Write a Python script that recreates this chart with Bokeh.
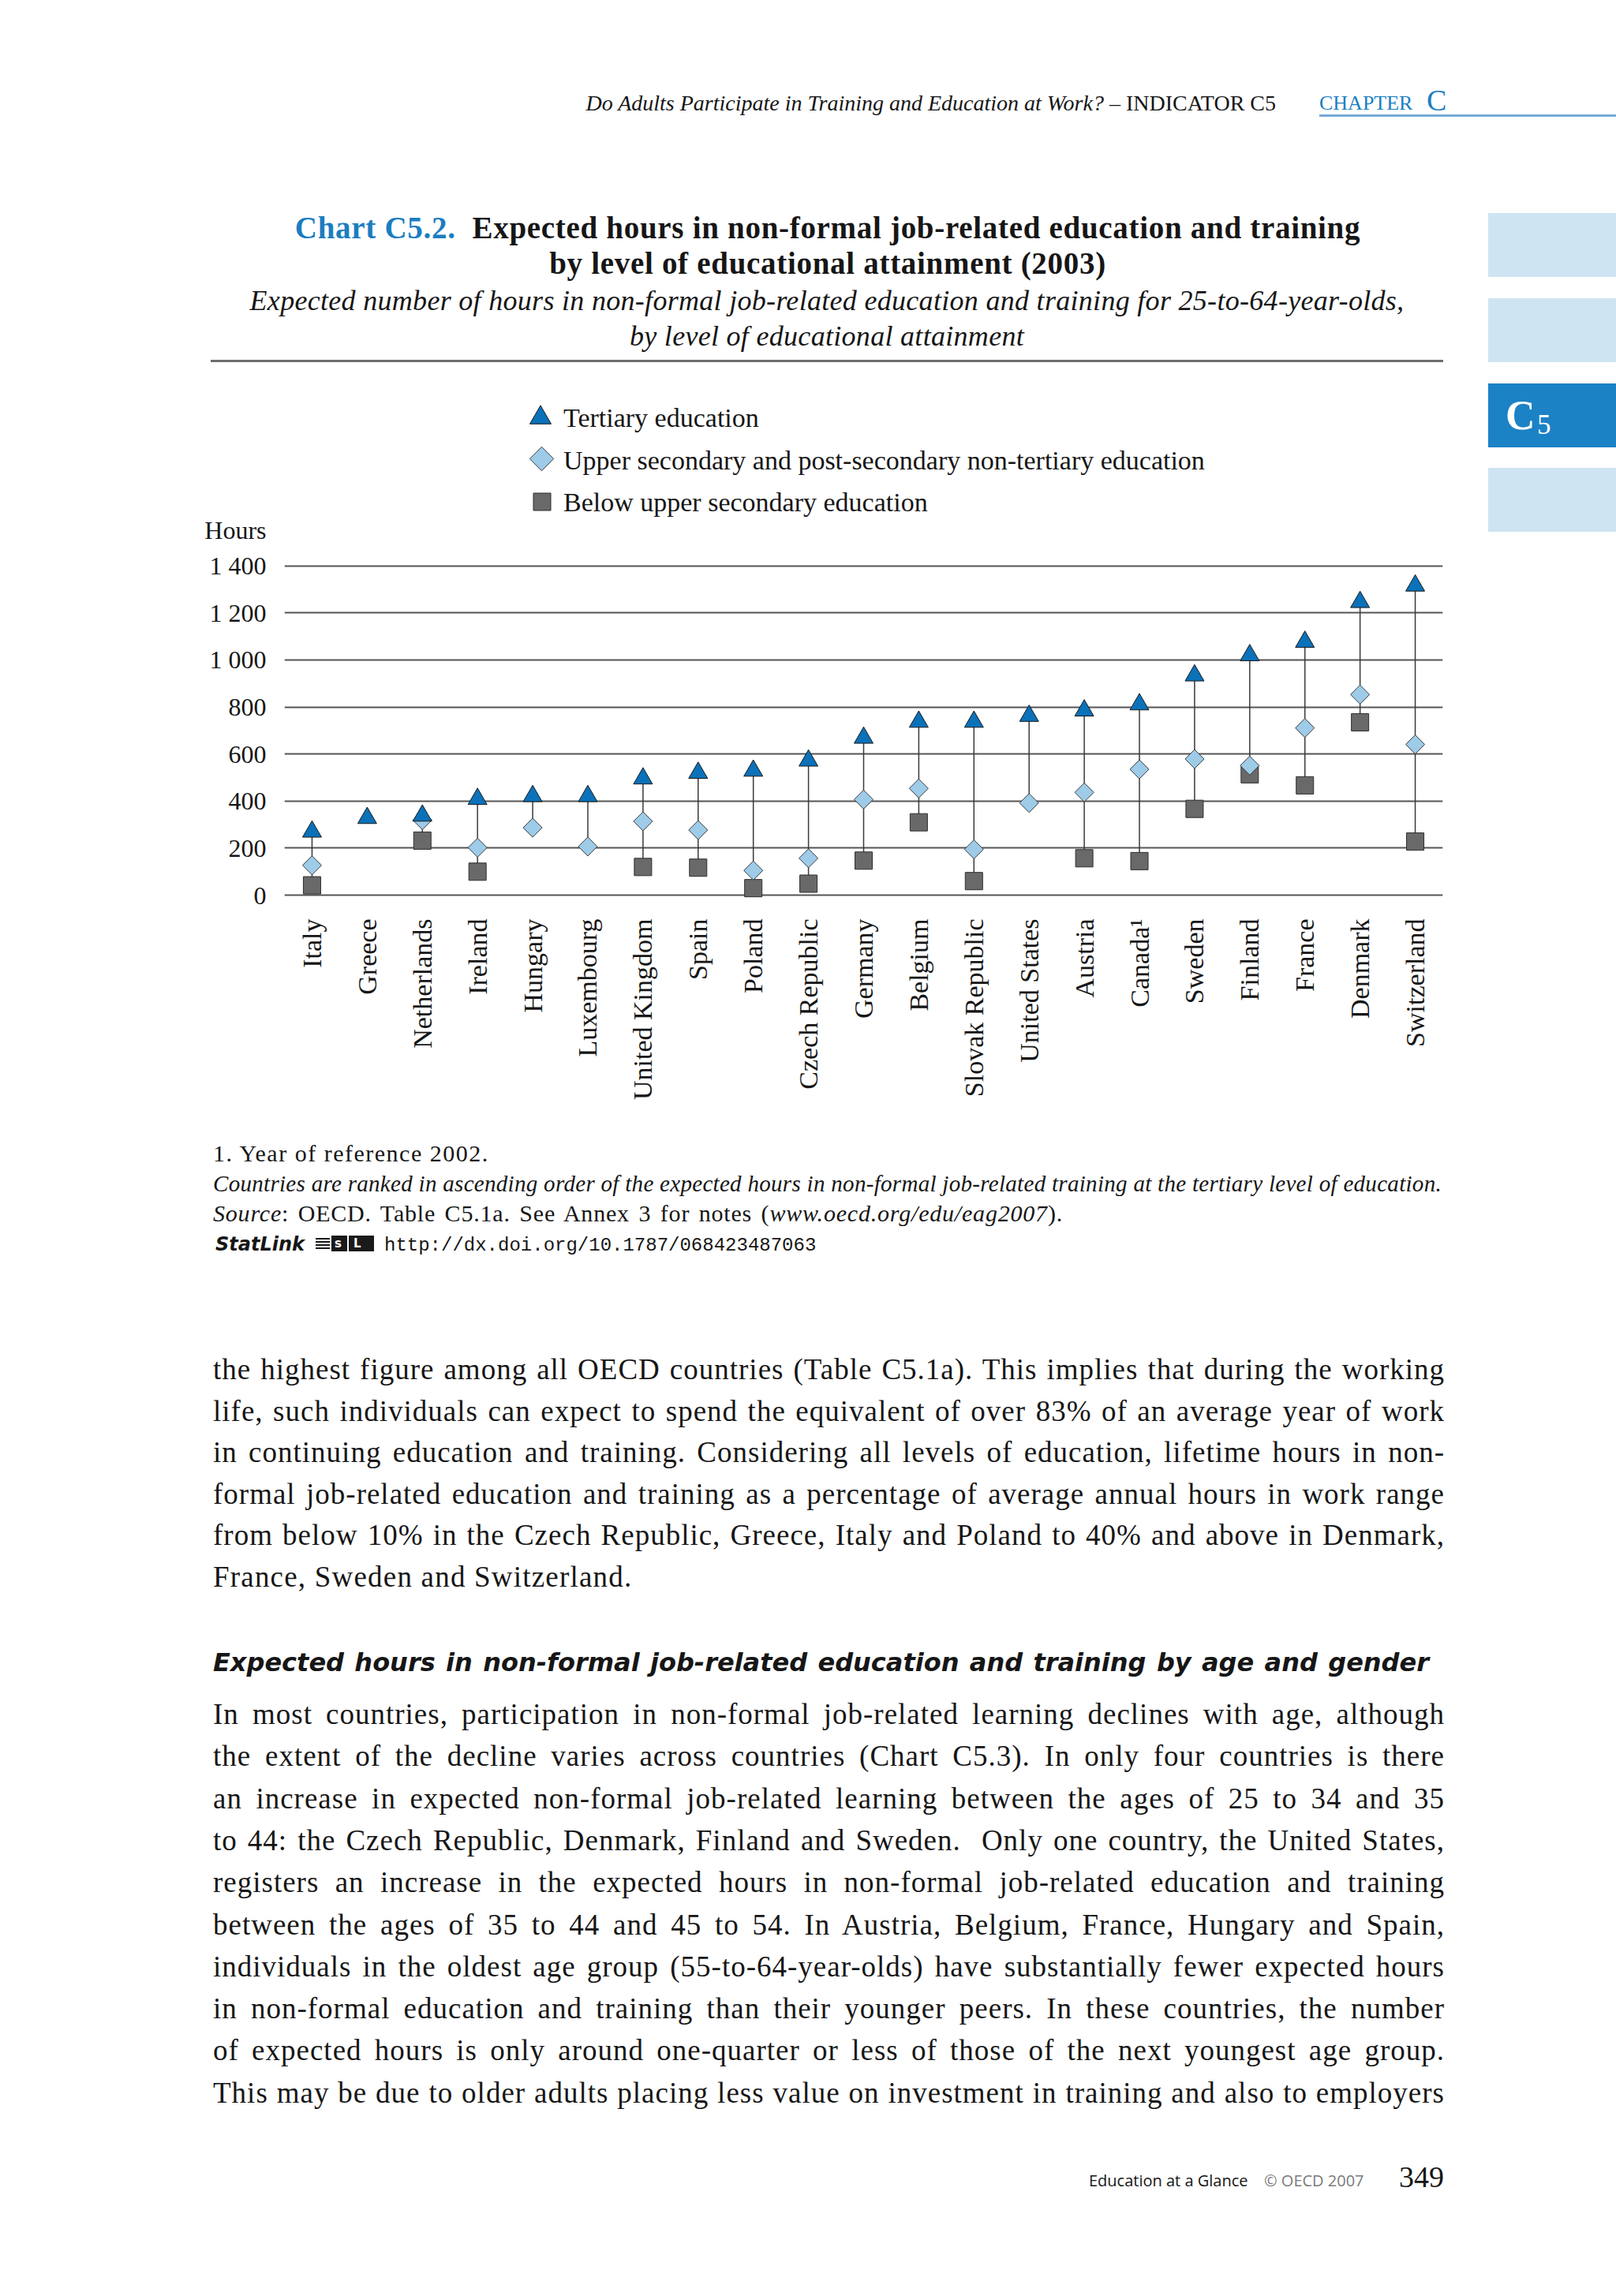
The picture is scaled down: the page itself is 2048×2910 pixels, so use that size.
import math
from bokeh.plotting import figure
from bokeh.layouts import column, row
from bokeh.models import (Range1d, FactorRange, FixedTicker, Label, ColumnDataSource, Div)
from bokeh.embed import file_html
from bokeh.resources import INLINE

# ---------------- data ----------------
countries = ["Italy", "Greece", "Netherlands", "Ireland", "Hungary", "Luxembourg",
             "United Kingdom", "Spain", "Poland", "Czech Republic", "Germany", "Belgium",
             "Slovak Republic", "United States", "Austria", "Canada\u00b9", "Sweden",
             "Finland", "France", "Denmark", "Switzerland"]
NA = float("nan")
tertiary = [270, 328, 338, 409, 421, 421, 496, 520, 529, 572, 669, 737, 737, 762,
            785, 811, 934, 1020, 1077, 1246, 1316]
upper_secondary = [127, NA, 319, 202, 287, 207, 314, 277, 105, 157, 407, 454, 195, 392,
                   437, 535, 579, 551, 711, 853, 641]
below_upper_secondary = [42, NA, 232, 100, NA, NA, 120, 117, 30, 49, 147, 310, 60, NA,
                         157, 145, 367, 514, 467, 735, 228]
y_ticks = [0, 200, 400, 600, 800, 1000, 1200, 1400]
y_tick_labels = ["0", "200", "400", "600", "800", "1 000", "1 200", "1 400"]
series_names = ["Tertiary education",
                "Upper secondary and post-secondary non-tertiary education",
                "Below upper secondary education"]
y_axis_title = "Hours"

# ---------------- styles / page geometry ----------------
TRI = "#0B71B9"
DIA = "#9DCBE8"
SQ = "#696969"
BLUE = "#1B7DC1"
TAB_LIGHT = "#CFE4F3"
TAB_DARK = "#1B82C5"
SERIF = "Liberation Serif"
INK = "#161616"

PAGE_W = 2048
TOP_H = 466                       # page y 0 .. 466
FIG_W, FIG_H = 1840, 954          # page x 0 .. 1840, page y 466 .. 1420
RIGHT_W = PAGE_W - FIG_W          # page x 1840 .. 2048
BOT_H = 1480                      # page y 1420 .. 2900
FIG_TOP = TOP_H
FIG_BOTTOM = FIG_TOP + FIG_H

FL, FR = 360, 1828                # page x of plot frame
FT, FB = 470, 1148                # page y of plot frame
CW = (FR - FL) / len(countries)
Y0_PAGE, Y1400_PAGE = 1134.1, 716.7
K = (Y0_PAGE - Y1400_PAGE) / 1400.0
y_start = -(FB - Y0_PAGE) / K
y_end = (Y0_PAGE - FT) / K


def px(page_x):
    # page pixel -> synthetic coordinate of the categorical x range
    return (page_x - FL) / CW


p = figure(width=FIG_W, height=FIG_H,
           x_range=FactorRange(factors=countries, range_padding=0),
           y_range=Range1d(y_start, y_end),
           output_backend="svg", toolbar_location=None,
           min_border_left=FL, min_border_right=FIG_W - FR,
           min_border_top=FT - FIG_TOP, min_border_bottom=FIG_BOTTOM - FB, margin=0)
p.extra_y_ranges = {"page": Range1d(FB, FT)}
p.outline_line_color = None
p.background_fill_color = "white"
p.border_fill_color = "white"

# y axis: value ticks plus the "Hours" caption placed above them
hours_tick = round((Y0_PAGE - 671.5) / K)
p.yaxis.ticker = FixedTicker(ticks=y_ticks + [hours_tick])
overrides = {t: l for t, l in zip(y_ticks, y_tick_labels)}
overrides[hours_tick] = y_axis_title
p.yaxis.major_label_overrides = overrides
p.yaxis.axis_line_color = None
p.yaxis.major_tick_line_color = None
p.yaxis.minor_tick_line_color = None
p.yaxis.major_label_standoff = 17
p.yaxis.major_label_text_font = SERIF
p.yaxis.major_label_text_font_size = "32px"
p.yaxis.major_label_text_color = INK

p.xaxis.axis_line_color = None
p.xaxis.major_tick_line_color = None
p.xaxis.minor_tick_line_color = None
p.xaxis.major_label_orientation = math.pi / 2
p.xaxis.major_label_standoff = 10
p.xaxis.major_label_text_font = SERIF
p.xaxis.major_label_text_font_size = "34px"
p.xaxis.major_label_text_color = INK

p.xgrid.grid_line_color = None
p.ygrid.ticker = FixedTicker(ticks=y_ticks)
p.ygrid.grid_line_color = "#555555"
p.ygrid.grid_line_width = 2

# data marks
lo, hi = [], []
for vals in zip(tertiary, upper_secondary, below_upper_secondary):
    present = [v for v in vals if not math.isnan(v)]
    lo.append(min(present))
    hi.append(max(present))

src = ColumnDataSource(dict(country=countries, tertiary=tertiary, upper=upper_secondary,
                            below=below_upper_secondary, lo=lo, hi=hi))

p.segment(x0="country", y0="lo", x1="country", y1="hi", source=src,
          line_color="#3a3a3a", line_width=1.5)
p.scatter(x="country", y="below", source=src, marker="square", size=22,
          fill_color=SQ, line_color="#2e2e2e", line_width=1)
p.scatter(x="country", y="upper", source=src, marker="square", angle=math.pi / 4, size=17,
          fill_color=DIA, line_color="#3a3a3a", line_width=1)
p.scatter(x="country", y="tertiary", source=src, marker="triangle", size=24,
          fill_color=TRI, line_color="#1a1a1a", line_width=1)

# legend (keys + labels), inside the frame above the grid
p.scatter(x=[px(684.5)], y=[529], y_range_name="page", marker="triangle",
          size=27, fill_color=TRI, line_color="#1a1a1a", line_width=1)
p.scatter(x=[px(686)], y=[581], y_range_name="page", marker="square",
          angle=math.pi / 4, size=21.5, fill_color=DIA, line_color="#3a3a3a", line_width=1)
p.scatter(x=[px(686.5)], y=[635.5], y_range_name="page", marker="square",
          size=22, fill_color=SQ, line_color="#2e2e2e", line_width=1)
for name, yb in zip(series_names, [529, 583, 635.6]):
    p.add_layout(Label(x=px(713.5), y=yb, text=name, y_range_name="page",
                       text_font=SERIF, text_font_size="34px", text_color=INK,
                       text_align="left", text_baseline="alphabetic"))

# ---------------- page text (HTML blocks) ----------------
ASC = {SERIF: 0.8375, "DejaVu Sans": 0.846, "Open Sans": 0.888, "Liberation Mono": 0.7665}


def line(ox, oy, x, base, html, size, family=SERIF, align="left", width=None,
         justify=False, extra=""):
    top = base - oy - ASC[family] * size
    if align == "center":
        left, w = x - ox - 1100, 2200
        ta = "text-align:center;"
    elif align == "right":
        left, w = x - ox - 2200, 2200
        ta = "text-align:right;"
    else:
        left, w = x - ox, width
        ta = "text-align:justify;text-align-last:justify;" if justify else ""
    wcss = f"width:{w}px;" if w else ""
    return (f'<div style="position:absolute;left:{left:.1f}px;top:{top:.1f}px;{wcss}{ta}'
            f"font-family:'{family}';font-size:{size}px;line-height:{size}px;"
            f'white-space:nowrap;color:{INK};{extra}">{html}</div>')


def rect(ox, oy, l, t, r, b, color, extra=""):
    return (f'<div style="position:absolute;left:{l - ox}px;top:{t - oy}px;width:{r - l}px;'
            f'height:{b - t}px;background:{color};{extra}"></div>')


def block(items, w, h):
    return (f'<div style="position:relative;width:{w}px;height:{h}px;overflow:hidden;'
            f'background:white;">' + "".join(items) + "</div>")


# top block (page origin 0, 0)
T = []
ox, oy = 0, 0
T.append(line(ox, oy, 1617, 140, "<i>Do Adults Participate in Training and Education at Work?</i>"
              " \u2013 INDICATOR C5", 28, align="right"))
T.append(line(ox, oy, 1672, 140, "CHAPTER", 26, extra=f"color:{BLUE};"))
T.append(line(ox, oy, 1808, 140, "C", 38, extra=f"color:{BLUE};"))
T.append(rect(ox, oy, 1672, 145, 2048, 148, "#74AAD8"))
T.append(rect(ox, oy, 1886, 270, 2048, 351, TAB_LIGHT))
T.append(rect(ox, oy, 1886, 378, 2048, 459, TAB_LIGHT))
T.append(line(ox, oy, 1049, 302, f'<span style="color:{BLUE}">Chart C5.2.</span>&nbsp; '
              "Expected hours in non-formal job-related education and training", 39,
              align="center", extra="font-weight:bold;letter-spacing:0.7px;"))
T.append(line(ox, oy, 1049, 347, "by level of educational attainment (2003)", 39,
              align="center", extra="font-weight:bold;letter-spacing:0.7px;"))
T.append(line(ox, oy, 1048, 393, "Expected number of hours in non-formal job-related education "
              "and training for 25-to-64-year-olds,", 36, align="center",
              extra="font-style:italic;letter-spacing:0.3px;"))
T.append(line(ox, oy, 1048, 438, "by level of educational attainment", 36, align="center",
              extra="font-style:italic;letter-spacing:0.3px;"))
T.append(rect(ox, oy, 267, 456, 1829, 459, "#6E6E6E"))
top_div = Div(text=block(T, PAGE_W, TOP_H), width=PAGE_W, height=TOP_H, margin=0)

# right block next to the chart (page origin 1840, 466)
R = []
ox, oy = FIG_W, FIG_TOP
R.append(rect(ox, oy, 1886, 486, 2048, 567, TAB_DARK))
R.append(rect(ox, oy, 1886, 593, 2048, 674, TAB_LIGHT))
R.append(line(ox, oy, 1908, 545, "C", 52, extra="color:white;font-weight:bold;"))
R.append(line(ox, oy, 1948, 550, "5", 35, extra="color:white;"))
right_div = Div(text=block(R, RIGHT_W, FIG_H), width=RIGHT_W, height=FIG_H, margin=0)

# bottom block (page origin 0, 1420)
B = []
ox, oy = 0, FIG_BOTTOM
B.append(line(ox, oy, 270, 1472, "1. Year of reference 2002.", 30, extra="letter-spacing:1.5px;"))
B.append(line(ox, oy, 270, 1510, "Countries are ranked in ascending order of the expected hours in "
              "non-formal job-related training at the tertiary level of education.", 29,
              width=1556, justify=True, extra="font-style:italic;letter-spacing:0.3px;"))
B.append(line(ox, oy, 270, 1548, "<i>Source</i>: OECD. Table C5.1a. See Annex 3 for notes "
              "(<i>www.oecd.org/edu/eag2007</i>).", 30, width=1077, justify=True,
              extra="letter-spacing:0.8px;"))
B.append(line(ox, oy, 273, 1585, "StatLink", 24, family="DejaVu Sans",
              extra="font-weight:bold;font-style:italic;"))
for k in range(4):
    B.append(rect(ox, oy, 400, 1569 + 4 * k, 418, 1571 + 4 * k, "#1a1a1a"))
B.append(rect(ox, oy, 420, 1566, 440, 1586, "#1a1a1a"))
B.append(rect(ox, oy, 442, 1566, 474, 1586, "#1a1a1a"))
B.append(line(ox, oy, 424, 1582, "s", 15, family="DejaVu Sans",
              extra="color:white;font-weight:bold;"))
B.append(line(ox, oy, 448, 1582, "L", 15, family="DejaVu Sans",
              extra="color:white;font-weight:bold;"))
B.append(line(ox, oy, 487, 1585, "http://dx.doi.org/10.1787/068423487063", 24,
              family="Liberation Mono"))

BODY = 37
BODY_EXTRA = "letter-spacing:1.0px;"
para1 = [
    "the highest figure among all OECD countries (Table C5.1a). This implies that during the working",
    "life, such individuals can expect to spend the equivalent of over 83% of an average year of work",
    "in continuing education and training. Considering all levels of education, lifetime hours in non-",
    "formal job-related education and training as a percentage of average annual hours in work range",
    "from below 10% in the Czech Republic, Greece, Italy and Poland to 40% and above in Denmark,",
    "France, Sweden and Switzerland.",
]
for i, s in enumerate(para1):
    last = i == len(para1) - 1
    B.append(line(ox, oy, 270, 1748 + i * 52.6, s, BODY, width=None if last else 1561,
                  justify=not last, extra=BODY_EXTRA + ("letter-spacing:1.2px;" if last else "")))

B.append(line(ox, oy, 270, 2118, "Expected hours in non-formal job-related education and training "
              "by age and gender", 32, family="DejaVu Sans", width=1541, justify=True,
              extra="font-weight:bold;font-style:italic;"))

para2 = [
    "In most countries, participation in non-formal job-related learning declines with age, although",
    "the extent of the decline varies across countries (Chart C5.3). In only four countries is there",
    "an increase in expected non-formal job-related learning between the ages of 25 to 34 and 35",
    "to 44: the Czech Republic, Denmark, Finland and Sweden.&nbsp; Only one country, the United States,",
    "registers an increase in the expected hours in non-formal job-related education and training",
    "between the ages of 35 to 44 and 45 to 54. In Austria, Belgium, France, Hungary and Spain,",
    "individuals in the oldest age group (55-to-64-year-olds) have substantially fewer expected hours",
    "in non-formal education and training than their younger peers. In these countries, the number",
    "of expected hours is only around one-quarter or less of those of the next youngest age group.",
    "This may be due to older adults placing less value on investment in training and also to employers",
]
for i, s in enumerate(para2):
    B.append(line(ox, oy, 270, 2185 + i * 53.3, s, BODY, width=1561, justify=True,
                  extra=BODY_EXTRA))

B.append(line(ox, oy, 1380, 2772, "Education at a Glance", 20, family="Open Sans"))
B.append(line(ox, oy, 1602, 2772, "\u00a9 OECD 2007", 20, family="Open Sans",
              extra="color:#7a7a7a;"))
B.append(line(ox, oy, 1773, 2772, "349", 38))
bottom_div = Div(text=block(B, PAGE_W, BOT_H), width=PAGE_W, height=BOT_H, margin=0)

layout = column(top_div, row(p, right_div, margin=0, spacing=0), bottom_div,
                margin=0, spacing=0)

with open("out.html", "w", encoding="utf-8") as f:
    f.write(file_html(layout, INLINE))
